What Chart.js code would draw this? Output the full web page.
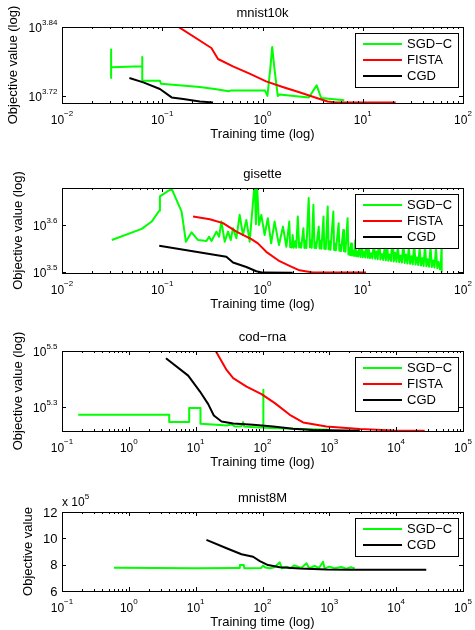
<!DOCTYPE html>
<html>
<head>
<meta charset="utf-8">
<script src="https://cdn.jsdelivr.net/npm/chart.js@4.4.0/dist/chart.umd.min.js"></script>
<style>
html, body { margin: 0; padding: 0; background: #fff; }
#wrap { position: relative; width: 475px; height: 630px; }
canvas { position: absolute; left: 0; }
</style>
</head>
<body>
<div id="wrap">
<canvas id="c1" width="475" height="157" style="top:0px"></canvas>
<canvas id="c2" width="475" height="158" style="top:157px"></canvas>
<canvas id="c3" width="475" height="157" style="top:315px"></canvas>
<canvas id="c4" width="475" height="158" style="top:472px"></canvas>
</div>
<script>
// ---- mnist10k ----
const m10_sgdT   = [0.0309, 0.0309, 0.0309, 0.0632, 0.0632, 0.0632, 0.0948, 0.097, 0.237, 0.347, 0.46, 0.48, 1.06, 1.12, 1.20, 1.25, 1.31, 1.42, 1.47, 2.9, 3.47, 3.85, 6.53];
const m10_sgdObj = [5632, 6323, 5892, 5915, 6140, 5587, 5587, 5520, 5447, 5397, 5355, 5370, 5370, 5258, 5900, 6390, 5900, 5255, 5285, 5225, 5483, 5213, 5165];
const m10_fistaT   = [0.138, 0.309, 0.360, 0.507, 0.743, 1.087, 1.59, 2.33, 3.41, 4.46, 5.39, 21.3];
const m10_fistaObj = [6960, 6363, 6090, 5915, 5744, 5571, 5447, 5333, 5220, 5143, 5123, 5123];
const m10_cgdT   = [0.047, 0.0647, 0.0948, 0.124, 0.162, 0.237, 0.321];
const m10_cgdObj = [5646, 5549, 5404, 5226, 5192, 5143, 5123];
const m10_yRange = [3.7085, 3.84];
const m10_yTicks = ['3.72', '3.84'];

// ---- gisette ----
const gis_sgdT = [
    0.0314, 0.0624, 0.0785, 0.0933, 0.0948, 0.124, 0.156, 0.172, 0.196, 0.228,
    0.276, 0.293, 0.310, 0.347, 0.369, 0.389, 0.420, 0.453, 0.482, 0.508,
    0.549, 0.592, 0.638, 0.690, 0.745, 0.792, 0.836, 0.86, 0.881, 0.923,
    0.973, 1.05, 1.13, 1.22, 1.32, 1.46, 1.60,
    1.73, 1.85, 1.89, 1.93, 1.96, 2.00, 2.05, 2.12, 2.17, 2.25,
    2.32, 2.38, 2.43, 2.56, 2.62, 2.68, 2.74, 2.89, 2.97, 3.03,
    3.10, 3.22, 3.30, 3.36, 3.43, 3.64, 3.71, 3.78, 3.87, 4.06,
    4.13, 4.20, 4.28, 4.47, 4.56, 4.65, 4.76, 5.09, 5.18, 5.28,
    5.40, 5.75, 5.84, 5.95, 6.07, 6.40, 6.50, 6.60, 6.72,
    7.06, 7.2, 7.35, 7.5, 7.65, 7.8, 8.0, 8.2, 8.4, 8.6,
    8.8, 9.0, 9.25, 9.5, 9.75, 10.0, 10.3, 10.6, 10.9, 11.2,
    11.5, 11.8, 12.1, 12.5, 12.9, 13.3, 13.7, 14.1, 14.6, 15.0,
    15.5, 16.0, 16.5, 17.0, 17.5, 18.0, 18.6, 19.2, 19.8, 20.4,
    21.0, 21.7, 22.4, 23.1, 23.8, 24.6, 25.4, 26.2, 27.0, 27.9,
    28.8, 29.7, 30.6, 31.6, 32.6, 33.6, 34.7, 35.8, 36.9, 38.1,
    39.3, 40.5, 41.8, 43.1, 44.5, 45.9, 47.4, 48.9, 50.4, 52.0,
    53.7, 55.4, 57.1, 58.9, 60.2, 61.0, 61.3];
const gis_sgdObj = [
    3703, 3910, 4053, 4272, 4584, 4760, 4256, 3673, 3846, 3703,
    3685, 3764, 3685, 3858, 3764, 4053, 3673, 3858, 3703, 3924,
    3735, 4188, 3795, 4086, 3673, 4293, 4900, 4000, 4900, 3987,
    4188, 3795, 4121, 3644, 4053, 3613, 3954,
    3584, 4053, 3575, 3660, 3570, 3795, 3568, 3680, 3565, 4153,
    3570, 3650, 3566, 3924, 3562, 3690, 3560, 4548, 3575, 3700,
    3565, 4400, 3562, 3660, 3558, 3954, 3555, 3690, 3550, 4153,
    3548, 3650, 3543, 4364, 3538, 3680, 3530, 4257, 3528, 3640,
    3520, 4022, 3515, 3620, 3508, 3890, 3505, 3600, 3498,
    4121, 3450, 3560, 3440, 3640, 3435, 3520, 3425, 3700, 3420,
    3500, 3415, 3580, 3410, 3820, 3405, 3490, 3400, 3900, 3395,
    3540, 3390, 3470, 3385, 3680, 3380, 3500, 3372, 3760, 3366,
    3460, 3360, 3560, 3354, 3640, 3348, 3450, 3342, 3860, 3336,
    3480, 3330, 3600, 3322, 3430, 3316, 3700, 3310, 3450, 3302,
    3580, 3296, 3420, 3290, 3660, 3284, 3400, 3277, 3560, 3270,
    3390, 3263, 3620, 3257, 3370, 3250, 3590, 3244, 3350, 3236,
    3560, 3228, 3330, 3210, 3290, 3560, 3170];
const gis_fistaT   = [0.203, 0.298, 0.404, 0.549, 0.775, 0.90, 1.09, 1.48, 1.86, 2.34, 3.17, 10.8];
const gis_fistaObj = [4153, 4100, 4022, 3858, 3721, 3644, 3496, 3339, 3265, 3194, 3160, 3158];
const gis_cgdT   = [0.0933, 0.436, 0.508, 0.690, 0.867, 1.01, 2.0];
const gis_cgdObj = [3600, 3411, 3318, 3246, 3179, 3158, 3156];
const gis_yRange = [3.4986, 3.679];
const gis_yTicks = ['3.5', '3.6'];

// ---- cod-rna ----
const cod_sgdT   = [0.175, 4.02, 4.02, 8.0, 8.0, 11.8, 11.8, 20.5, 29, 34.4, 38.5, 48, 51.3, 53, 91.2, 102, 102, 104, 286, 1013];
const cod_sgdObj = [187800, 187800, 177000, 177000, 198400, 198400, 174600, 173200, 172000, 173500, 170800, 171000, 177000, 170500, 169400, 169400, 230200, 169000, 167600, 166300];
const cod_fistaT   = [18, 29.0, 36.4, 57.7, 96.6, 153, 256, 405, 906, 2847, 8954, 26700];
const cod_fistaObj = [330000, 270900, 253200, 236500, 222300, 206600, 187800, 176400, 170800, 167200, 165300, 164700];
const cod_cgdT   = [3.59, 7.73, 11.6, 15.4, 18.7, 24.4, 36.4, 72.3, 144, 286, 570, 2850];
const cod_cgdObj = [298000, 258600, 227100, 204900, 186700, 177900, 175000, 173200, 170800, 167600, 165800, 164700];
const cod_yRange = [5.2162, 5.5];
const cod_yTicks = ['5.3', '5.5'];

// ---- mnist8M ----
const m8_sgdT   = [0.598, 10, 40, 45, 45.8, 52.5, 53.5, 95, 102, 110, 130, 150, 181, 195, 230, 260, 300, 380, 455, 500, 600, 700, 805, 850, 1000, 1200, 1500, 1800, 2100, 2400];
const m8_sgdObj = [776000, 772000, 774000, 774000, 797000, 797000, 772000, 774000, 793000, 778000, 772000, 780000, 817000, 772000, 785000, 772000, 795000, 775000, 810000, 772000, 790000, 775000, 822000, 770000, 785000, 772000, 782000, 770000, 780000, 772000];
const m8_cgdT   = [14.5, 29, 48.5, 72.4, 91.2, 121, 181, 361, 906, 2000, 28200];
const m8_cgdObj = [988000, 925000, 879000, 860000, 827000, 797000, 781000, 771000, 764000, 762000, 762000];
const m8_yTicks = [6, 8, 10, 12];   // x 10^5

const xExpSmall = [-2, -1, 0, 1, 2];
const xExpLarge = [-1, 0, 1, 2, 3, 4, 5];

const FONT = '"Liberation Sans", Arial, Helvetica, sans-serif';
const GREEN = '#00ff00', RED = '#ff0000', BLACK = '#000000';

function pts(xs, ys) {
    return xs.map((x, i) => ({ x: x, y: ys[i] }));
}

function expText(e) {
    return e < 0 ? '\u2212' + Math.abs(e) : String(e);
}

// "10" with a raised exponent
function drawPower(ctx, base, exp, x, y, align, size) {
    ctx.font = size + 'px ' + FONT;
    const wb = ctx.measureText(base).width;
    ctx.font = '8px ' + FONT;
    const we = exp ? ctx.measureText(exp).width : 0;
    let x0 = x;
    if (align === 'center') x0 = x - (wb + we) / 2;
    if (align === 'right') x0 = x - wb - we;
    ctx.textAlign = 'left';
    ctx.textBaseline = 'alphabetic';
    ctx.font = size + 'px ' + FONT;
    ctx.fillText(base, x0, y);
    if (exp) {
        ctx.font = '8px ' + FONT;
        ctx.fillText(exp, x0 + wb, y - 7.5);
    }
    return wb + we;
}

const matlabAxes = {
    id: 'matlabAxes',
    afterDraw(chart, args, o) {
        const ctx = chart.ctx;
        const a = chart.chartArea;
        const xs = chart.scales.x, ys = chart.scales.y;
        const L = Math.round(a.left), R = Math.round(a.right);
        const T = Math.round(a.top), B = Math.round(a.bottom);

        ctx.save();
        ctx.strokeStyle = '#000';
        ctx.fillStyle = '#000';
        ctx.lineWidth = 1;

        // box
        ctx.strokeRect(L + 0.5, T + 0.5, R - L, B - T);

        // ticks
        ctx.beginPath();
        o.xExp.forEach((e, i) => {
            const px = Math.round(xs.getPixelForValue(Math.pow(10, e))) + 0.5;
            ctx.moveTo(px, B); ctx.lineTo(px, B - 4);
            ctx.moveTo(px, T); ctx.lineTo(px, T + 4);
            if (i < o.xExp.length - 1) {
                for (let k = 2; k < 10; k++) {
                    const mx = Math.round(xs.getPixelForValue(k * Math.pow(10, e))) + 0.5;
                    ctx.moveTo(mx, B); ctx.lineTo(mx, B - 2);
                    ctx.moveTo(mx, T); ctx.lineTo(mx, T + 2);
                }
            }
        });
        o.yTicks.forEach(t => {
            const py = Math.round(ys.getPixelForValue(t.v)) + 0.5;
            ctx.moveTo(L, py); ctx.lineTo(L + 4, py);
            ctx.moveTo(R, py); ctx.lineTo(R - 4, py);
        });
        ctx.stroke();

        // x tick labels
        o.xExp.forEach(e => {
            const px = xs.getPixelForValue(Math.pow(10, e));
            drawPower(ctx, '10', expText(e), px, B + 20.5, 'center', 12);
        });

        // y tick labels
        let maxW = 0;
        o.yTicks.forEach(t => {
            const py = ys.getPixelForValue(t.v);
            const w = t.exp
                ? drawPower(ctx, t.base, t.exp, L - 4.5, py + 5, 'right', 12)
                : drawPower(ctx, t.base, '', L - 4.5, py + 4.5, 'right', 13);
            maxW = Math.max(maxW, w);
        });

        if (o.mult) drawPower(ctx, o.mult[0], o.mult[1], L, T - 6, 'left', 12);

        // titles
        ctx.font = '13px ' + FONT;
        ctx.textAlign = 'center';
        ctx.textBaseline = 'alphabetic';
        ctx.fillText(o.title, (L + R) / 2, T - 10.5);
        ctx.fillText('Training time (log)', (L + R) / 2, B + 35);

        ctx.save();
        ctx.translate(L - 4.5 - maxW - 15, (T + B) / 2);
        ctx.rotate(-Math.PI / 2);
        ctx.textBaseline = 'middle';
        ctx.fillText(o.yTitle, 0, 0);
        ctx.restore();

        // legend box, top right inside the axes
        const items = chart.data.datasets;
        const bw = 103, bh = 16 * items.length + 6;
        const bx = R - 5 - bw, by = T + 6;
        ctx.fillStyle = '#fff';
        ctx.fillRect(bx, by, bw, bh);
        ctx.strokeStyle = '#000';
        ctx.lineWidth = 1;
        ctx.strokeRect(bx + 0.5, by + 0.5, bw, bh);
        items.forEach((d, i) => {
            const cy = by + 11 + 16 * i;
            ctx.strokeStyle = d.borderColor;
            ctx.lineWidth = 2;
            ctx.beginPath();
            ctx.moveTo(bx + 8, cy);
            ctx.lineTo(bx + 47, cy);
            ctx.stroke();
            ctx.fillStyle = '#000';
            ctx.font = '13px ' + FONT;
            ctx.textAlign = 'left';
            ctx.textBaseline = 'middle';
            ctx.fillText(d.label, bx + 52, cy + 0.5);
        });

        ctx.restore();
    }
};

function series(label, color, xs, ys, order) {
    return {
        label: label,
        data: pts(xs, ys),
        borderColor: color,
        backgroundColor: color,
        borderWidth: 2,
        borderJoinStyle: 'round',
        pointRadius: 0,
        tension: 0,
        order: order
    };
}

function makePlot(id, pad, datasets, xMin, xMax, yScale, axesOpts) {
    return new Chart(document.getElementById(id), {
        type: 'line',
        data: { datasets },
        options: {
            responsive: false,
            animation: false,
            events: [],
            layout: { padding: pad },
            scales: {
                x: { type: 'logarithmic', min: xMin, max: xMax, display: false },
                y: Object.assign({ display: false }, yScale)
            },
            plugins: {
                legend: { display: false },
                tooltip: { enabled: false },
                matlabAxes: axesOpts
            }
        },
        plugins: [matlabAxes]
    });
}

function logTicks(list) {
    return list.map(e => ({ v: Math.pow(10, parseFloat(e)), base: '10', exp: e }));
}

makePlot('c1', { left: 62, right: 12, top: 27, bottom: 54 }, [
    series('SGD\u2212C', GREEN, m10_sgdT, m10_sgdObj, 3),
    series('FISTA', RED, m10_fistaT, m10_fistaObj, 2),
    series('CGD', BLACK, m10_cgdT, m10_cgdObj, 1)
], 0.01, 100,
{ type: 'logarithmic', min: Math.pow(10, m10_yRange[0]), max: Math.pow(10, m10_yRange[1]) },
{ title: 'mnist10k', yTitle: 'Objective value (log)', xExp: xExpSmall, yTicks: logTicks(m10_yTicks) });

makePlot('c2', { left: 62, right: 12, top: 31, bottom: 42 }, [
    series('SGD\u2212C', GREEN, gis_sgdT, gis_sgdObj, 3),
    series('FISTA', RED, gis_fistaT, gis_fistaObj, 2),
    series('CGD', BLACK, gis_cgdT, gis_cgdObj, 1)
], 0.01, 100,
{ type: 'logarithmic', min: Math.pow(10, gis_yRange[0]), max: Math.pow(10, gis_yRange[1]) },
{ title: 'gisette', yTitle: 'Objective value (log)', xExp: xExpSmall, yTicks: logTicks(gis_yTicks) });

makePlot('c3', { left: 62, right: 12, top: 36, bottom: 41 }, [
    series('SGD\u2212C', GREEN, cod_sgdT, cod_sgdObj, 3),
    series('FISTA', RED, cod_fistaT, cod_fistaObj, 2),
    series('CGD', BLACK, cod_cgdT, cod_cgdObj, 1)
], 0.1, 100000,
{ type: 'logarithmic', min: Math.pow(10, cod_yRange[0]), max: Math.pow(10, cod_yRange[1]) },
{ title: 'cod\u2212rna', yTitle: 'Objective value (log)', xExp: xExpLarge, yTicks: logTicks(cod_yTicks) });

makePlot('c4', { left: 62, right: 12, top: 40, bottom: 39 }, [
    series('SGD\u2212C', GREEN, m8_sgdT, m8_sgdObj, 2),
    series('CGD', BLACK, m8_cgdT, m8_cgdObj, 1)
], 0.1, 100000,
{ type: 'linear', min: 600000, max: 1200000 },
{ title: 'mnist8M', yTitle: 'Objective value', xExp: xExpLarge,
  yTicks: m8_yTicks.map(v => ({ v: v * 100000, base: String(v), exp: '' })),
  mult: ['x 10', '5'] });
</script>
</body>
</html>
